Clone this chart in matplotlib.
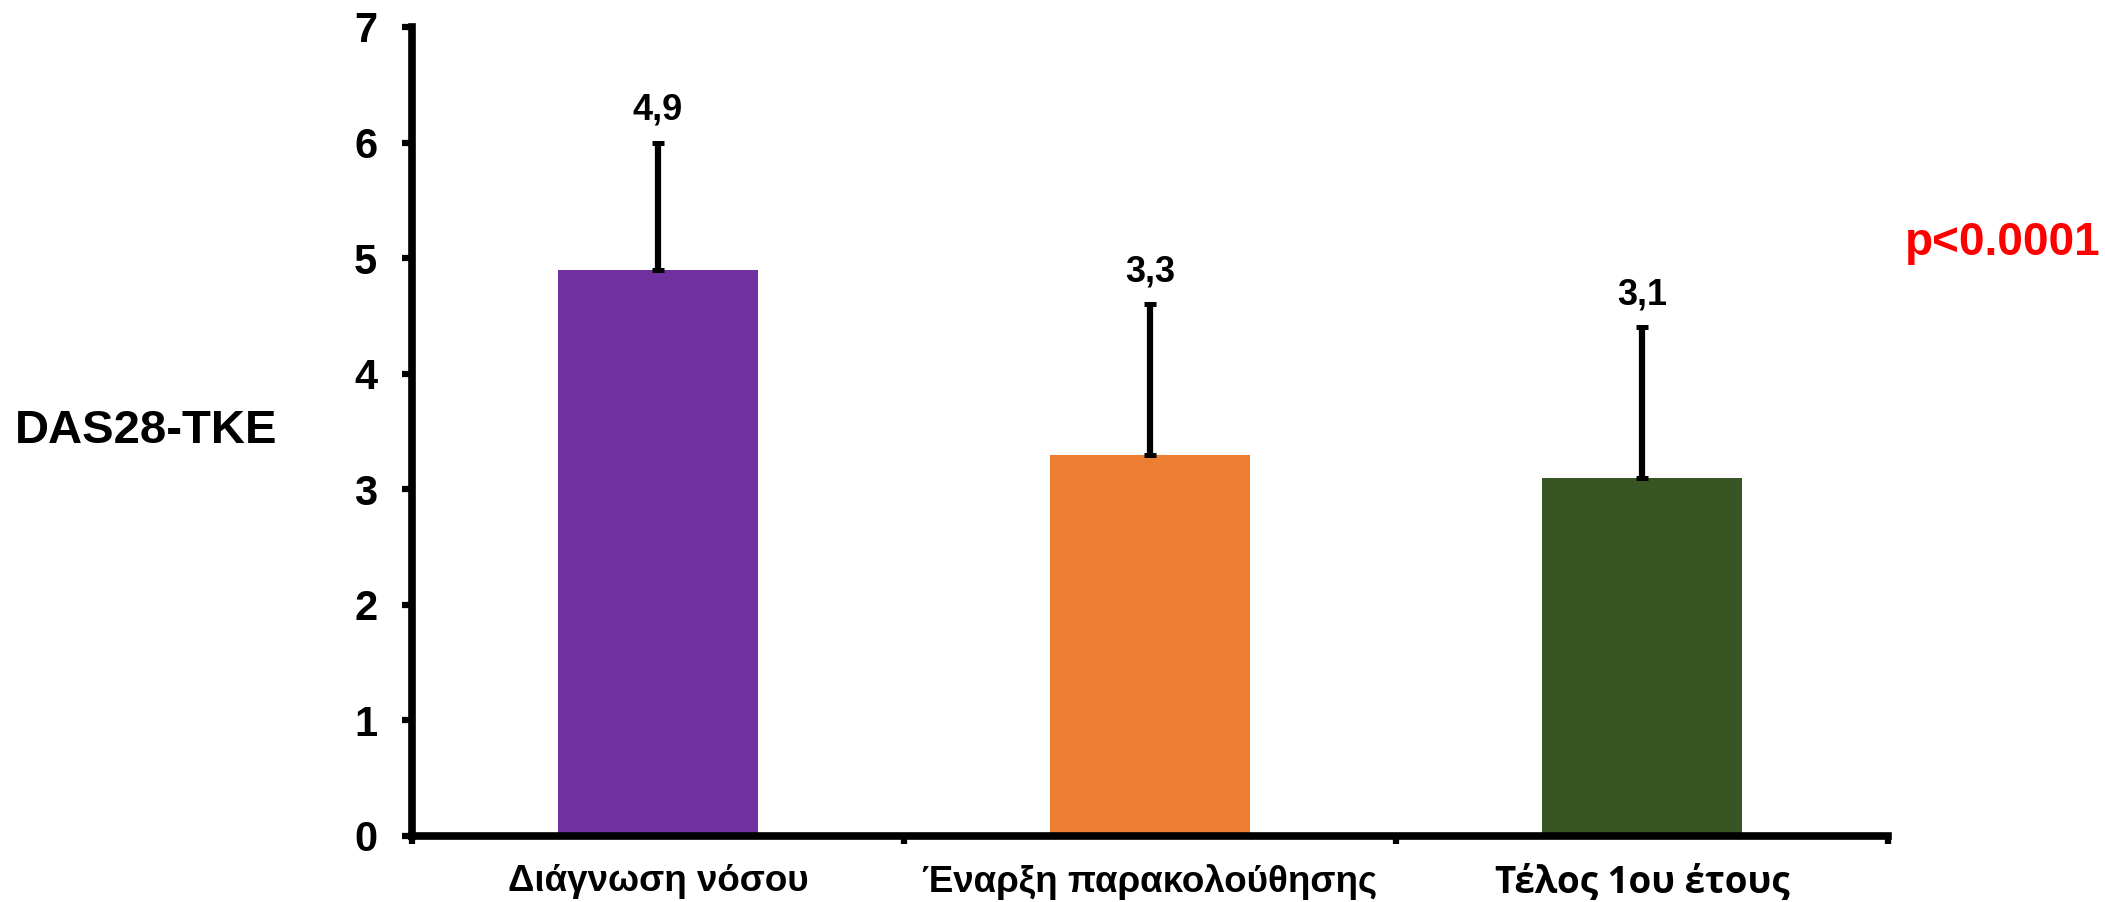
import numpy as np
import matplotlib
matplotlib.use("Agg")
import matplotlib.pyplot as plt

# δεδομένα DAS28-TKE (μέση τιμή και SD)
categories = ["Διάγνωση νόσου", "Έναρξη παρακολούθησης", "Τέλος 1ου έτους"]
means = [4.9, 3.3, 3.1]
sd = [1.1, 1.3, 1.3]
value_labels = ["4,9", "3,3", "3,1"]
colors = ["#7030A0", "#ED7D31", "#375623"]
y_ticks = [0, 1, 2, 3, 4, 5, 6, 7]

plt.rcParams["font.family"] = ["Liberation Sans", "DejaVu Sans"]
plt.rcParams["font.weight"] = "bold"

fig = plt.figure(figsize=(21.05, 9.02), dpi=100)
ax = fig.add_axes([0.1957, 0.0732, 0.7012, 0.8969])

x = np.arange(len(categories))
ax.bar(x, means, width=0.405, color=colors, zorder=2)
ax.errorbar(x, means, yerr=[np.zeros(len(sd)), sd], fmt="none", ecolor="black",
            elinewidth=4.5, capsize=4.3, capthick=3.6, zorder=3)

# τιμές πάνω από τις μπάρες
for xi, m, s, lab in zip(x, means, sd, value_labels):
    ax.annotate(lab, (xi, m + s), xytext=(0, 11), textcoords="offset points",
                ha="center", va="bottom", fontsize=26, fontweight="bold")

ax.set_xlim(-0.5, 2.5)
ax.set_ylim(0, 7)
ax.set_yticks(y_ticks)
ax.set_yticklabels([str(t) for t in y_ticks], fontsize=30, fontweight="bold")

# ticks στα όρια των κατηγοριών, ετικέτες στο κέντρο
ax.set_xticks([-0.5, 0.5, 1.5, 2.5])
ax.set_xticklabels([])
ax.set_xticks(x, minor=True)
ax.set_xticklabels(categories, minor=True, fontsize=26.5, fontweight="bold")
for t in ax.xaxis.get_minorticklabels()[2:]:
    t.set_family(["Open Sans", "DejaVu Sans"])
ax.tick_params(axis="x", which="minor", length=0, pad=20)
ax.tick_params(axis="x", which="major", length=6, width=4.5, direction="out")
ax.tick_params(axis="y", length=7, width=4.5, direction="out", pad=18)

for side in ["top", "right"]:
    ax.spines[side].set_visible(False)
for side in ["left", "bottom"]:
    ax.spines[side].set_linewidth(5.5)

fig.text(0.0694, 0.5089, "DAS28-TKE", ha="center", va="baseline",
         fontsize=34, fontweight="bold")
fig.text(0.905, 0.7173, "p<0.0001", ha="left", va="baseline",
         fontsize=33, fontweight="bold", color="#FF0000")

fig.savefig("out.png", dpi=100)
